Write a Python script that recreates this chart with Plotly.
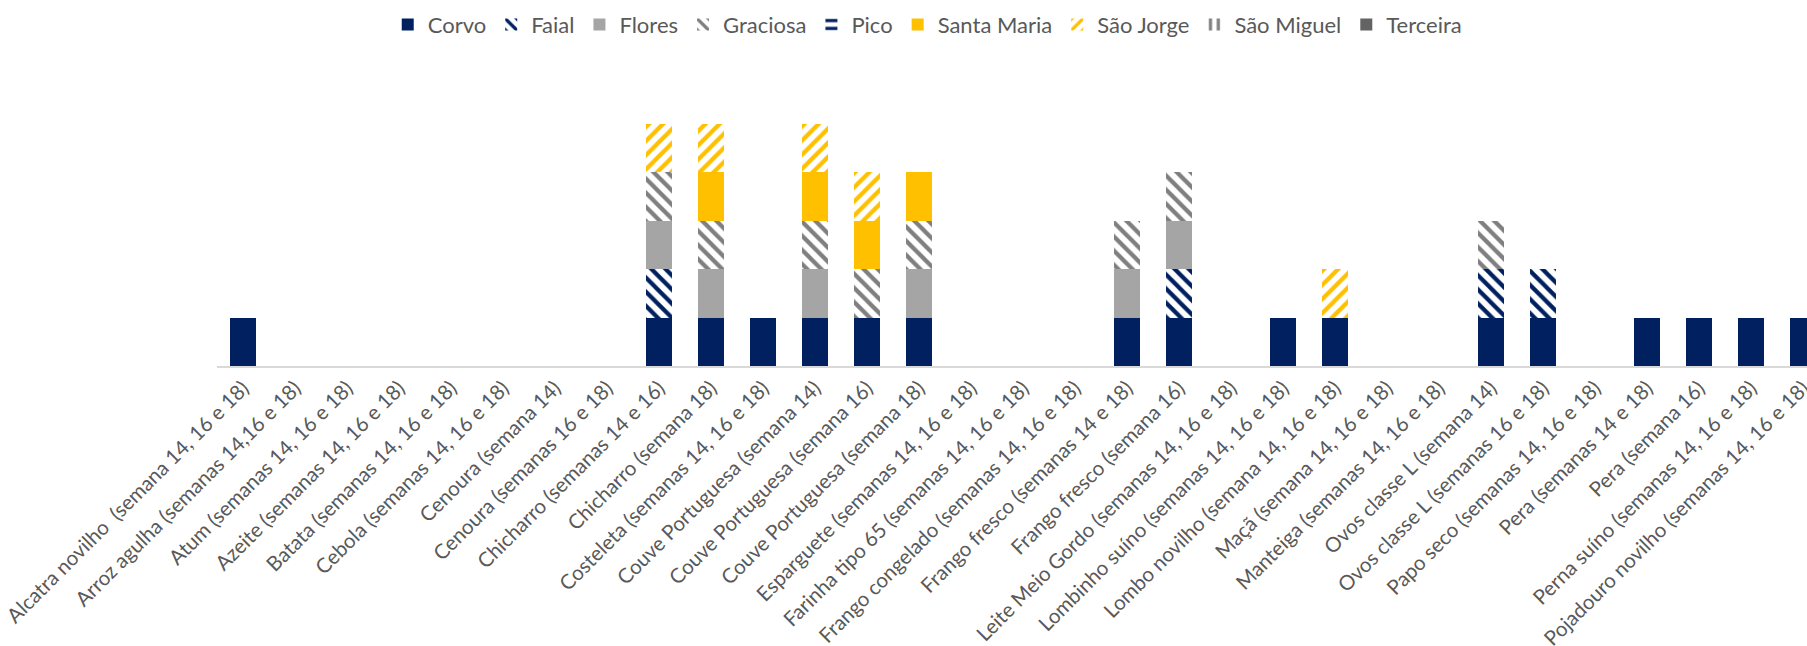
import plotly.graph_objects as go

# Product categories (x axis)
categories = [
    "Alcatra novilho  (semana 14, 16 e 18)",
    "Arroz agulha (semanas 14,16 e 18)",
    "Atum (semanas 14, 16 e 18)",
    "Azeite (semanas 14, 16 e 18)",
    "Batata (semanas 14, 16 e 18)",
    "Cebola (semanas 14, 16 e 18)",
    "Cenoura (semana 14)",
    "Cenoura (semanas 16 e 18)",
    "Chicharro (semanas 14 e 16)",
    "Chicharro (semana 18)",
    "Costeleta (semanas 14, 16 e 18)",
    "Couve Portuguesa (semana 14)",
    "Couve Portuguesa (semana 16)",
    "Couve Portuguesa (semana 18)",
    "Esparguete (semanas 14, 16 e 18)",
    "Farinha tipo 65 (semanas 14, 16 e 18)",
    "Frango congelado (semanas 14, 16 e 18)",
    "Frango fresco (semanas 14 e 18)",
    "Frango fresco (semana 16)",
    "Leite Meio Gordo (semanas 14, 16 e 18)",
    "Lombinho suíno (semanas 14, 16 e 18)",
    "Lombo novilho (semana 14, 16 e 18)",
    "Maçã (semana 14, 16 e 18)",
    "Manteiga (semanas 14, 16 e 18)",
    "Ovos classe L (semana 14)",
    "Ovos classe L (semanas 16 e 18)",
    "Papo seco (semanas 14, 16 e 18)",
    "Pera (semanas 14 e 18)",
    "Pera (semana 16)",
    "Perna suíno (semanas 14, 16 e 18)",
    "Pojadouro novilho (semanas 14, 16 e 18)",
]

# One value per category for each island
corvo       = [1, 0, 0, 0, 0, 0, 0, 0, 1, 1, 1, 1, 1, 1, 0, 0, 0, 1, 1, 0, 1, 1, 0, 0, 1, 1, 0, 1, 1, 1, 1]
faial       = [0, 0, 0, 0, 0, 0, 0, 0, 1, 0, 0, 0, 0, 0, 0, 0, 0, 0, 1, 0, 0, 0, 0, 0, 1, 1, 0, 0, 0, 0, 0]
flores      = [0, 0, 0, 0, 0, 0, 0, 0, 1, 1, 0, 1, 0, 1, 0, 0, 0, 1, 1, 0, 0, 0, 0, 0, 0, 0, 0, 0, 0, 0, 0]
graciosa    = [0, 0, 0, 0, 0, 0, 0, 0, 1, 1, 0, 1, 1, 1, 0, 0, 0, 1, 1, 0, 0, 0, 0, 0, 1, 0, 0, 0, 0, 0, 0]
pico        = [0, 0, 0, 0, 0, 0, 0, 0, 0, 0, 0, 0, 0, 0, 0, 0, 0, 0, 0, 0, 0, 0, 0, 0, 0, 0, 0, 0, 0, 0, 0]
santa_maria = [0, 0, 0, 0, 0, 0, 0, 0, 0, 1, 0, 1, 1, 1, 0, 0, 0, 0, 0, 0, 0, 0, 0, 0, 0, 0, 0, 0, 0, 0, 0]
sao_jorge   = [0, 0, 0, 0, 0, 0, 0, 0, 1, 1, 0, 1, 1, 0, 0, 0, 0, 0, 0, 0, 0, 1, 0, 0, 0, 0, 0, 0, 0, 0, 0]
sao_miguel  = [0, 0, 0, 0, 0, 0, 0, 0, 0, 0, 0, 0, 0, 0, 0, 0, 0, 0, 0, 0, 0, 0, 0, 0, 0, 0, 0, 0, 0, 0, 0]
terceira    = [0, 0, 0, 0, 0, 0, 0, 0, 0, 0, 0, 0, 0, 0, 0, 0, 0, 0, 0, 0, 0, 0, 0, 0, 0, 0, 0, 0, 0, 0, 0]

NAVY = "#002060"
GREY = "#A5A5A5"
DARK_GREY = "#7F7F7F"
GOLD = "#FFC000"
CHARCOAL = "#636363"

# (name, values, colour, pattern shape or "" for solid)
series = [
    ("Corvo", corvo, NAVY, ""),
    ("Faial", faial, NAVY, "\\"),
    ("Flores", flores, GREY, ""),
    ("Graciosa", graciosa, DARK_GREY, "\\"),
    ("Pico", pico, NAVY, "-"),
    ("Santa Maria", santa_maria, GOLD, ""),
    ("São Jorge", sao_jorge, GOLD, "/"),
    ("São Miguel", sao_miguel, DARK_GREY, "|"),
    ("Terceira", terceira, CHARCOAL, ""),
]

fig = go.Figure()
for name, vals, color, shape in series:
    if shape:
        marker = dict(
            color="white",
            line=dict(width=0),
            pattern=dict(shape=shape, fgcolor=color, bgcolor="white",
                         fgopacity=1, size=10, solidity=0.42,
                         fillmode="replace"),
        )
    else:
        marker = dict(color=color, line=dict(width=0))
    fig.add_trace(go.Bar(name=name, x=categories, y=vals, marker=marker))

FONT = "Lato"
fig.update_layout(
    barmode="stack",
    bargap=0.49,
    width=1807,
    height=646,
    margin=dict(l=217, r=0, t=75, b=280),
    plot_bgcolor="white",
    paper_bgcolor="white",
    font=dict(family=FONT, color="#595959"),
    showlegend=True,
    legend=dict(
        orientation="h",
        x=0.447,
        xanchor="center",
        y=1.245,
        yanchor="top",
        font=dict(family=FONT, size=22, color="#595959"),
        traceorder="normal",
        itemwidth=30,
    ),
    xaxis=dict(
        type="category",
        range=[-0.5, 30.077],
        tickangle=-45,
        tickfont=dict(family=FONT, size=20.5, color="#595959"),
        showline=True,
        linecolor="#D9D9D9",
        linewidth=2,
        showgrid=False,
        ticks="",
        automargin=False,
    ),
    yaxis=dict(
        range=[0, 6],
        visible=False,
        showgrid=False,
        zeroline=False,
    ),
)

fig.write_html("out.html")
